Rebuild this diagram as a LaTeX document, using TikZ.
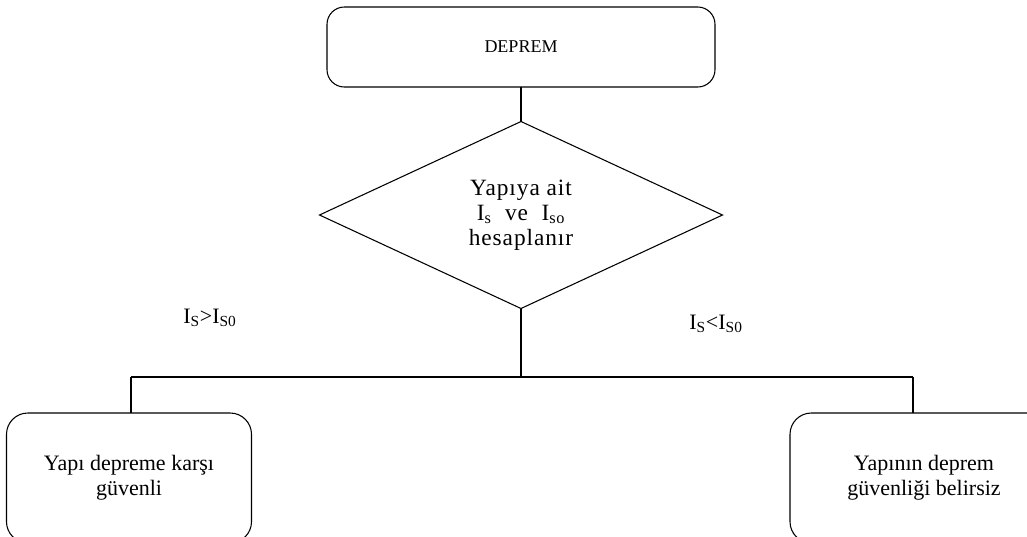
\documentclass[tikz,border=0pt]{standalone}
\usepackage{fontspec}
\setmainfont{Liberation Serif}
\newfontfamily\genisyazi[LetterSpace=4]{Liberation Serif}
\usetikzlibrary{shapes.geometric}
\begin{document}
\begin{tikzpicture}[x=0.75pt,y=-0.75pt,line width=0.8pt,
    kutu/.style={draw,rounded corners=16pt,align=center,inner sep=0pt,outer sep=0pt},
    karar/.style={draw,diamond,align=center,inner sep=0pt,outer sep=0pt,
      minimum width=403*0.75pt,minimum height=187*0.75pt},
    yazi/.style={font=\fontsize{16.5}{18.75}\selectfont}]
      \useasboundingbox (0,0) rectangle (1027,536);
      \node[kutu,rounded corners=13pt,minimum width=388*0.75pt,minimum height=80*0.75pt,
        font=\fontsize{13.5}{16}\selectfont] at (521,47) (deprem) {DEPREM};
      \node[karar,font=\genisyazi\fontsize{17.5}{18.75}\selectfont] at (521,215) (hesap)
        {Yap\i ya ait\\I\textsubscript{s}~~ve~~I\textsubscript{so}\\hesaplan\i r};
      \node[yazi] at (210,318) (buyuk) {I\textsubscript{S}>I\textsubscript{S0}};
      \node[yazi] at (716,324) (kucuk) {I\textsubscript{S}<I\textsubscript{S0}};
      \coordinate (split) at (521,377);
      \coordinate (lsplit) at (131,377);
      \coordinate (rsplit) at (913,377);
      \node[kutu,yazi,minimum width=245*0.75pt,minimum height=130*0.75pt] at (129,478) (guvenli)
        {Yap\i{} depreme kar\c{s}\i\\g\"uvenli};
      \node[kutu,yazi,minimum width=268*0.75pt,minimum height=130*0.75pt] at (924,478) (belirsiz)
        {Yap\i n\i n deprem\\g\"uvenli\u{g}i belirsiz};
      \draw (deprem) -- (hesap);
      \draw (hesap) -- (split);
      \draw (lsplit) -- (rsplit);
      \draw (lsplit) -- (lsplit |- guvenli.north);
      \draw (rsplit) -- (rsplit |- belirsiz.north);
    \end{tikzpicture}
\end{document}
